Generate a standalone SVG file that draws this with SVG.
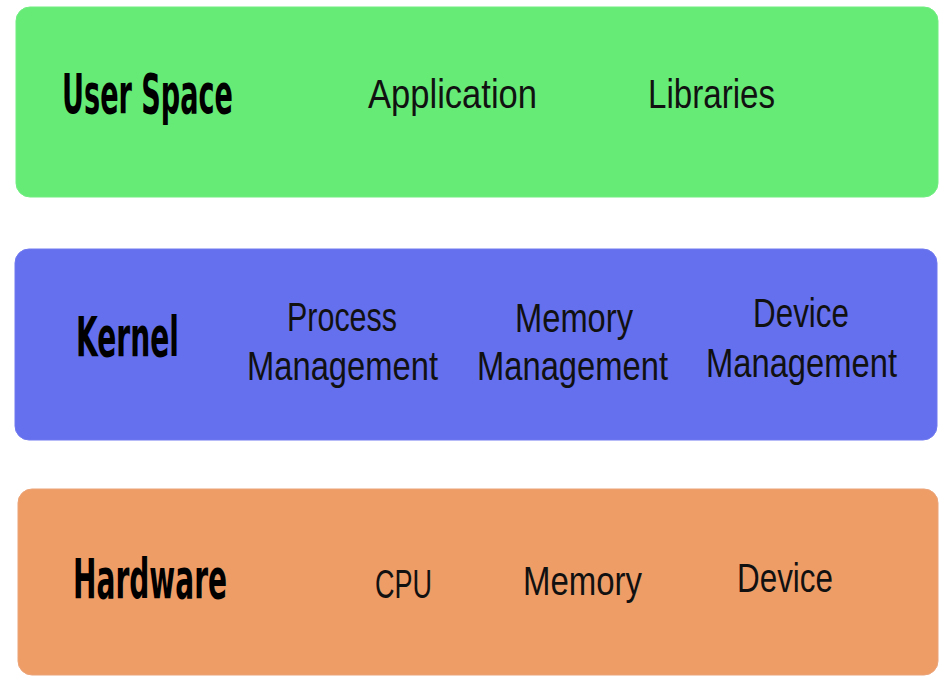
<svg xmlns="http://www.w3.org/2000/svg" width="944" height="676" viewBox="0 0 944 676">
<style>
.box{stroke-width:1}
.title{font-family:"Liberation Sans Narrow","DejaVu Sans Condensed","Liberation Sans",sans-serif;font-weight:bold;font-size:56px;fill:#000}
.lbl{font-family:"Liberation Sans","DejaVu Sans",sans-serif;font-size:41px;fill:#111}
</style>
<rect width="944" height="676" fill="#ffffff"/>
<g id="user-space">
<rect class="box" x="16" y="7" width="922" height="190" rx="14" fill="#67EB77" stroke="#70ED80"/>
<text class="title" x="62" y="113" textLength="171" lengthAdjust="spacingAndGlyphs">User Space</text>
<text class="lbl" x="368" y="108" textLength="169" lengthAdjust="spacingAndGlyphs">Application</text>
<text class="lbl" x="648" y="108" textLength="127" lengthAdjust="spacingAndGlyphs">Libraries</text>
</g>
<g id="kernel">
<rect class="box" x="15" y="249" width="922" height="191" rx="14" fill="#6570EE" stroke="#7079EF"/>
<text class="title" x="76" y="356" textLength="103" lengthAdjust="spacingAndGlyphs">Kernel</text>
<text class="lbl" x="287" y="331" textLength="110" lengthAdjust="spacingAndGlyphs">Process</text>
<text class="lbl" x="247" y="380" textLength="191" lengthAdjust="spacingAndGlyphs">Management</text>
<text class="lbl" x="515" y="332" textLength="118" lengthAdjust="spacingAndGlyphs">Memory</text>
<text class="lbl" x="477" y="380" textLength="191" lengthAdjust="spacingAndGlyphs">Management</text>
<text class="lbl" x="753" y="327" textLength="96" lengthAdjust="spacingAndGlyphs">Device</text>
<text class="lbl" x="706" y="377" textLength="191" lengthAdjust="spacingAndGlyphs">Management</text>
</g>
<g id="hardware">
<rect class="box" x="18" y="489" width="920" height="186" rx="14" fill="#EE9D67" stroke="#EBA378"/>
<text class="title" x="73" y="598" textLength="154" lengthAdjust="spacingAndGlyphs">Hardware</text>
<text class="lbl" x="375" y="598" textLength="57" lengthAdjust="spacingAndGlyphs">CPU</text>
<text class="lbl" x="523" y="595" textLength="119" lengthAdjust="spacingAndGlyphs">Memory</text>
<text class="lbl" x="737" y="592" textLength="96" lengthAdjust="spacingAndGlyphs">Device</text>
</g>
<g id="connectors"/>
</svg>
